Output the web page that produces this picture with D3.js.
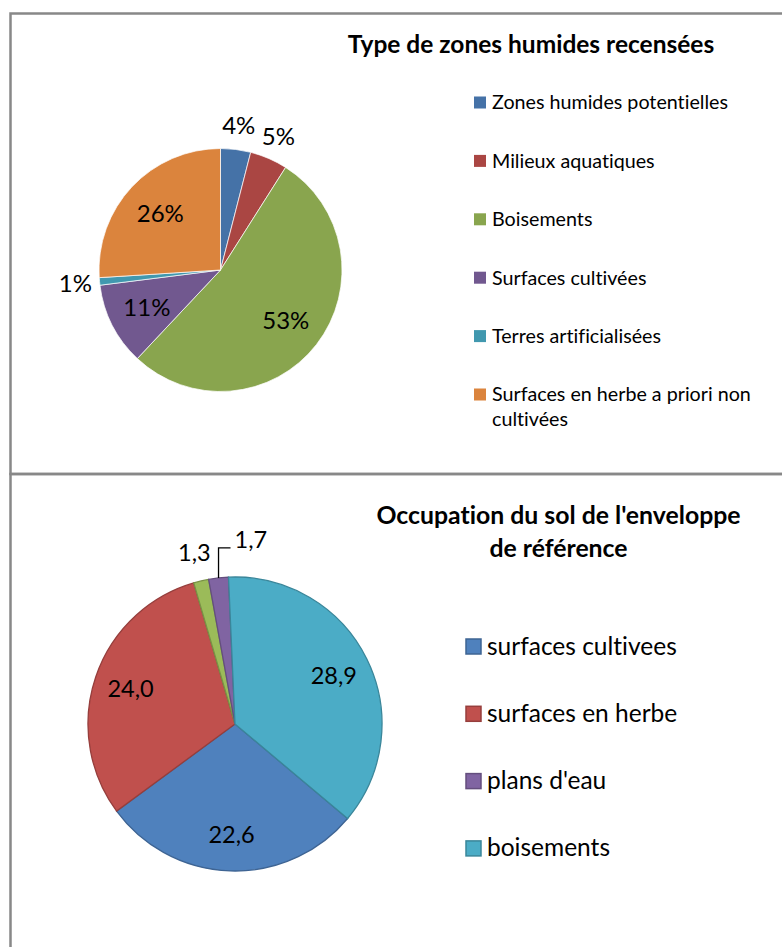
<!DOCTYPE html>
<html>
<head>
<meta charset="utf-8">
<script src="https://cdn.jsdelivr.net/npm/d3@7"></script>
<style>
  body { margin: 0; background: #fff; }
  svg { display: block; font-family: Lato, "Open Sans", sans-serif; font-variant-ligatures: none; font-feature-settings: "liga" 0, "clig" 0; }
</style>
</head>
<body>
<div id="chart"></div>
<script>
// --- top chart: type de zones humides (percent)
var zoneTypes = ["Zones humides potentielles", "Milieux aquatiques", "Boisements",
                 "Surfaces cultivées", "Terres artificialisées",
                 "Surfaces en herbe a priori non cultivées"];
var zoneShares = [4, 5, 53, 11, 1, 26];
var zoneColors = ["#4572A7", "#AA4643", "#89A54E", "#71588F", "#4198AF", "#DB843D"];

// --- bottom chart: occupation du sol (the 1,3 slice has no legend entry)
var landTypes = ["surfaces cultivees", "surfaces en herbe", null, "plans d'eau", "boisements"];
var landValues = [22.6, 24.0, 1.3, 1.7, 28.9];
var landColors = ["#4F81BD", "#C0504D", "#9BBB59", "#8064A2", "#4BACC6"];

var width = 782, height = 947;

var svg = d3.select("#chart").append("svg")
    .attr("width", width)
    .attr("height", height);

// chart frames
svg.append("rect")
    .attr("x", 10.5).attr("y", 13.5)
    .attr("width", 800).attr("height", 460.5)
    .attr("fill", "none").attr("stroke", "#888").attr("stroke-width", 2.5);
svg.append("rect")
    .attr("x", 10.5).attr("y", 474)
    .attr("width", 800).attr("height", 500)
    .attr("fill", "none").attr("stroke", "#888").attr("stroke-width", 2.5);

var frFormat = d3.formatLocale({decimal: ",", thousands: " ", grouping: [3], currency: ["", " €"]}).format(".1f");

function wrap(text, maxWidth, lineHeight) {
  text.each(function() {
    var t = d3.select(this),
        words = t.text().split(/\s+/),
        x = t.attr("x"),
        line = [],
        tspan = t.text(null).append("tspan").attr("x", x);
    words.forEach(function(w) {
      line.push(w);
      tspan.text(line.join(" "));
      if (tspan.node().getComputedTextLength() > maxWidth && line.length > 1) {
        line.pop();
        tspan.text(line.join(" "));
        line = [w];
        tspan = t.append("tspan").attr("x", x).attr("dy", lineHeight).text(w);
      }
    });
  });
}

// ================= top chart =================
var topChart = svg.append("g").attr("class", "chart-top");

topChart.append("text")
    .attr("x", 531).attr("y", 53)
    .attr("text-anchor", "middle")
    .style("font-size", "24.5px").style("font-weight", "bold")
    .text("Type de zones humides recensées");

var topR = 121.5;
var topPie = d3.pie().sort(null).value(function(d) { return d; });
var topArc = d3.arc().innerRadius(0).outerRadius(topR);
var topArcs = topPie(zoneShares);

var topG = topChart.append("g").attr("transform", "translate(220.5,270)");

topG.selectAll(".slice")
    .data(topArcs)
    .enter().append("path")
    .attr("class", "slice")
    .attr("d", topArc)
    .attr("fill", function(d, i) { return zoneColors[i]; })
    .attr("stroke", "#fff")
    .attr("stroke-width", 0.7);

var topTotal = d3.sum(zoneShares);
topG.selectAll(".lbl")
    .data(topArcs)
    .enter().append("text")
    .attr("class", "lbl")
    .attr("transform", function(d) {
      var k = d.data < 6 ? 1.2 : 0.68;
      var a = (d.startAngle + d.endAngle) / 2;
      return "translate(" + (Math.sin(a) * topR * k) + "," + (-Math.cos(a) * topR * k) + ")";
    })
    .attr("text-anchor", "middle")
    .attr("dy", "0.36em")
    .style("font-size", "24px")
    .text(function(d) { return d3.format(".0%")(d.data / topTotal); });

var topLegend = topChart.append("g").attr("transform", "translate(474,102.5)");
var topItems = topLegend.selectAll(".item")
    .data(zoneTypes)
    .enter().append("g")
    .attr("class", "item")
    .attr("transform", function(d, i) { return "translate(0," + (i * 58.4) + ")"; });
topItems.append("rect")
    .attr("x", 0).attr("y", -6)
    .attr("width", 12).attr("height", 12)
    .attr("fill", function(d, i) { return zoneColors[i]; });
topItems.append("text")
    .attr("x", 18).attr("y", 0)
    .attr("dy", "0.35em")
    .style("font-size", "19.7px")
    .text(function(d) { return d; })
    .call(wrap, 275, 25);

// ================= bottom chart =================
var bottomChart = svg.append("g").attr("class", "chart-bottom");

var bTitle = bottomChart.append("text")
    .attr("text-anchor", "middle")
    .style("font-size", "24.8px").style("font-weight", "bold");
bTitle.append("tspan").attr("x", 558.5).attr("y", 524).text("Occupation du sol de l'enveloppe");
bTitle.append("tspan").attr("x", 558.5).attr("y", 557).text("de référence");

var botR = 147;
var rot = 130 * Math.PI / 180;
var botPie = d3.pie().sort(null).value(function(d) { return d; })
    .startAngle(rot).endAngle(rot + 2 * Math.PI);
var botArc = d3.arc().innerRadius(0).outerRadius(botR);
var botArcs = botPie(landValues);

var botG = bottomChart.append("g").attr("transform", "translate(235,724)");

botG.selectAll(".slice")
    .data(botArcs)
    .enter().append("path")
    .attr("class", "slice")
    .attr("d", botArc)
    .attr("fill", function(d, i) { return landColors[i]; })
    .attr("stroke", function(d, i) { return d3.color(landColors[i]).darker(0.7); })
    .attr("stroke-width", 1.3);

// small slices get outside labels; the second small one is pushed aside with a leader line
var small = botArcs.filter(function(d) { return d.data < 5; });
botArcs.forEach(function(d, i) {
  var a = (d.startAngle + d.endAngle) / 2;
  var sx = Math.sin(a), sy = -Math.cos(a);
  var lbl = botG.append("text")
      .style("font-size", "23.5px")
      .text(frFormat(d.data));
  if (d.data >= 5) {
    lbl.attr("x", sx * botR * 0.75).attr("y", sy * botR * 0.75)
       .attr("text-anchor", "middle").attr("dy", "0.36em");
  } else if (small.indexOf(d) === 0) {
    lbl.attr("x", sx * botR * 1.2).attr("y", sy * botR * 1.2)
       .attr("text-anchor", "middle").attr("dy", "0.36em");
  } else {
    var px = sx * botR, py = sy * botR;
    botG.append("path")
        .attr("d", d3.line()([[px, py], [px, py - 30], [px + 12, py - 30]]))
        .attr("fill", "none").attr("stroke", "#000").attr("stroke-width", 1.3);
    lbl.attr("x", px + 16).attr("y", py - 30).attr("text-anchor", "start");
  }
});

var legendData = landTypes.map(function(name, i) { return {name: name, color: landColors[i]}; })
    .filter(function(d) { return d.name; });
var botLegend = bottomChart.append("g").attr("transform", "translate(465,646)");
var botItems = botLegend.selectAll(".item")
    .data(legendData)
    .enter().append("g")
    .attr("class", "item")
    .attr("transform", function(d, i) { return "translate(0," + (i * 67.3) + ")"; });
botItems.append("rect")
    .attr("x", 1).attr("y", -7)
    .attr("width", 15).attr("height", 15)
    .attr("fill", function(d) { return d.color; })
    .attr("stroke", function(d) { return d3.color(d.color).darker(0.7); })
    .attr("stroke-width", 1.5);
botItems.append("text")
    .attr("x", 22).attr("y", 0)
    .attr("dy", "0.35em")
    .style("font-size", "24.5px")
    .text(function(d) { return d.name; });
</script>
</body>
</html>
